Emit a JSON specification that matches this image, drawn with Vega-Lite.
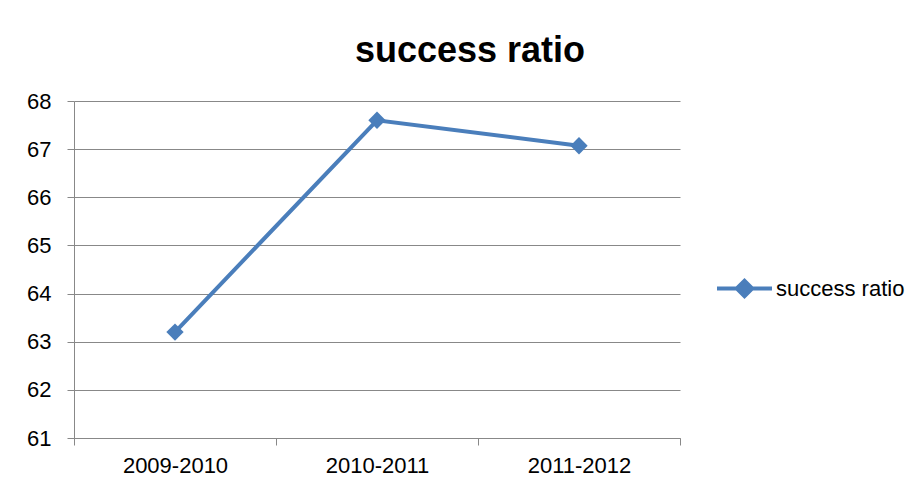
{
  "$schema": "https://vega.github.io/schema/vega-lite/v6.json",
  "autosize": "none",
  "width": 606,
  "height": 337,
  "padding": {"left": 74, "top": 101, "right": 240, "bottom": 50},
  "background": "white",
  "title": {
    "text": "success ratio",
    "font": "Liberation Sans",
    "fontSize": 36,
    "fontWeight": "bold",
    "color": "#000000",
    "anchor": "middle",
    "dx": 93,
    "offset": 20
  },
  "data": {
    "values": [
      {"year": "2009-2010", "ratio": 63.2, "series": "success ratio"},
      {"year": "2010-2011", "ratio": 67.6, "series": "success ratio"},
      {"year": "2011-2012", "ratio": 67.07, "series": "success ratio"}
    ]
  },
  "encoding": {
    "x": {
      "field": "year",
      "type": "nominal",
      "scale": {"paddingInner": 0, "paddingOuter": 0},
      "axis": {
        "title": null,
        "labelAngle": 0,
        "tickBand": "extent",
        "grid": false,
        "domainColor": "#888888",
        "tickColor": "#888888",
        "tickSize": 7,
        "labelFont": "Liberation Sans",
        "labelFontSize": 22,
        "labelColor": "#000000",
        "labelPadding": 10
      }
    },
    "y": {
      "field": "ratio",
      "type": "quantitative",
      "scale": {"domain": [61, 68], "nice": false, "zero": false},
      "axis": {
        "title": null,
        "values": [61, 62, 63, 64, 65, 66, 67, 68],
        "grid": true,
        "gridColor": "#888888",
        "domainColor": "#888888",
        "tickColor": "#888888",
        "tickSize": 7,
        "labelFont": "Liberation Sans",
        "labelFontSize": 22,
        "labelColor": "#000000",
        "labelPadding": 16
      }
    },
    "color": {
      "field": "series",
      "type": "nominal",
      "scale": {"range": ["#4A7EBB"]},
      "legend": {
        "title": null,
        "orient": "none",
        "legendX": 641,
        "legendY": 158,
        "symbolType": "M-1,0H1M-0.28,0L0,-0.28L0.28,0L0,0.28Z",
        "symbolSize": 3025,
        "symbolStrokeWidth": 4,
        "symbolFillColor": "#4A7EBB",
        "symbolStrokeColor": "#4A7EBB",
        "labelFont": "Liberation Sans",
        "labelFontSize": 22,
        "labelColor": "#000000",
        "labelOffset": 2,
        "padding": 0
      }
    }
  },
  "layer": [
    {"mark": {"type": "line", "strokeWidth": 4}},
    {"mark": {"type": "point", "shape": "diamond", "filled": true, "size": 300, "opacity": 1}}
  ],
  "config": {"view": {"stroke": null}}
}
